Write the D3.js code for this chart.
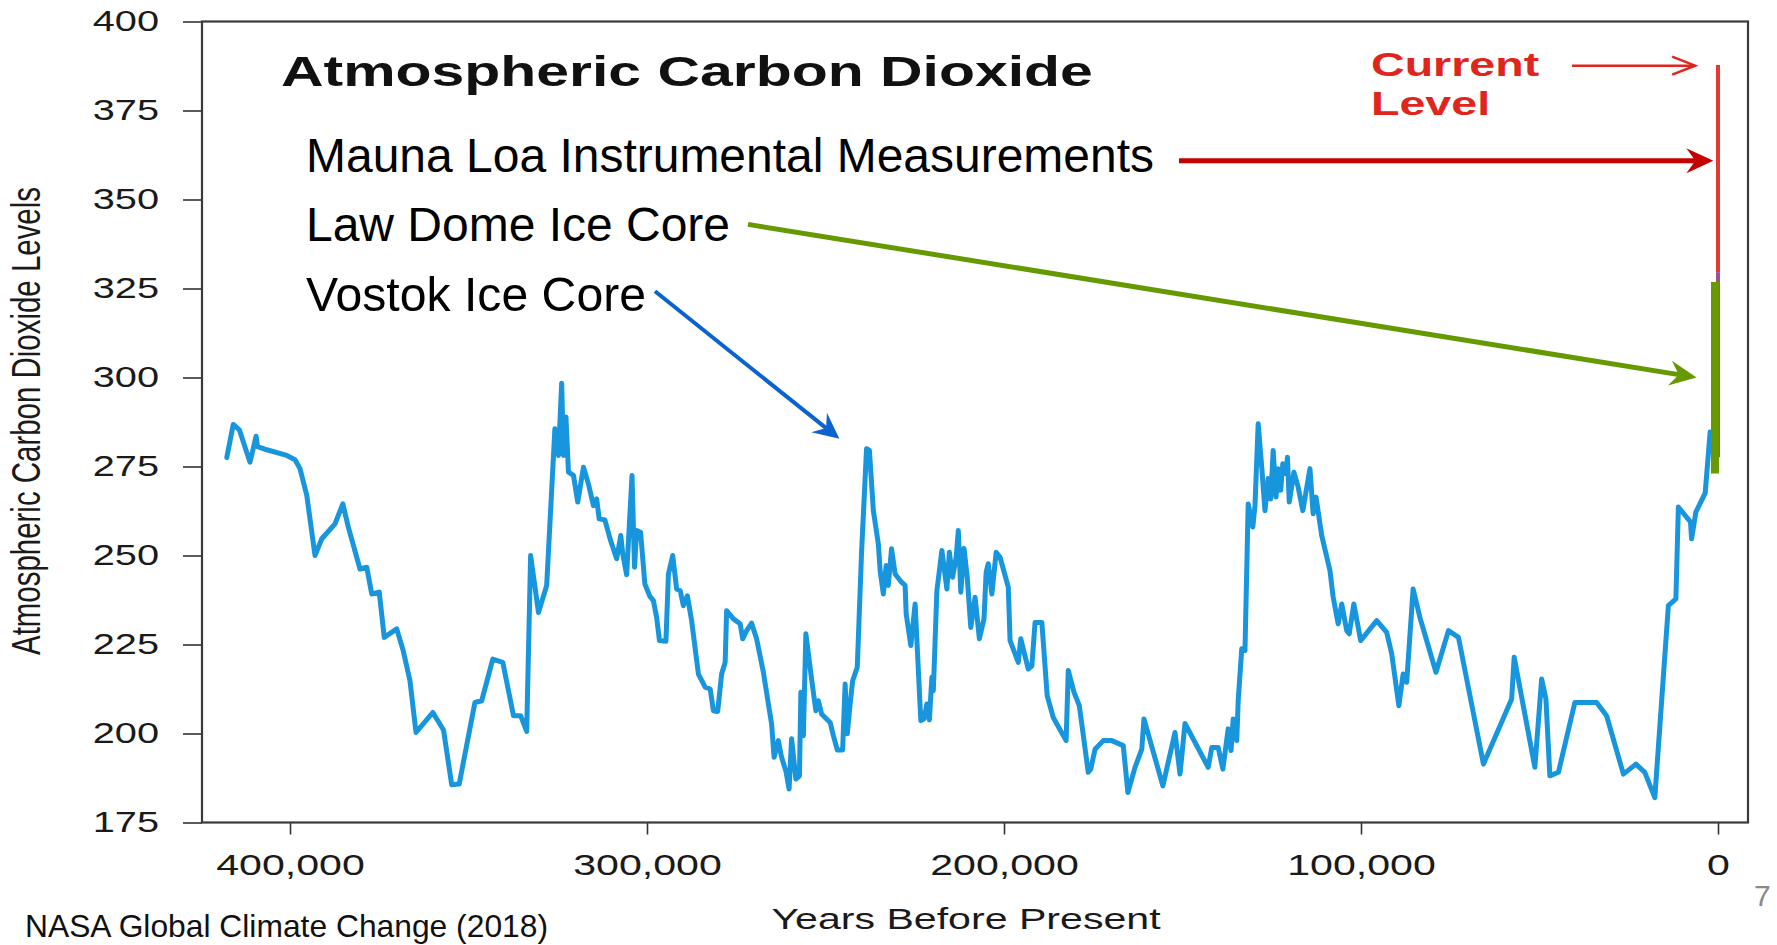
<!DOCTYPE html>
<html><head><meta charset="utf-8">
<script src="https://cdn.jsdelivr.net/npm/d3@7"></script>
<style>
html,body{margin:0;padding:0;background:#fff;}
svg{display:block;}
text{font-family:"Liberation Sans",Arial,Helvetica,sans-serif;}
</style>
</head><body>
<svg id="chart" width="1777" height="945"></svg>
<script>
// ---------------- DATA ----------------
const vostokYears = [417700,415900,414200,411200,409500,409100,406500,400900,398600,397200,395300,393000,391100,387400,385200,383700,380400,378500,377100,375000,373600,370100,368300,366400,364700,360000,357000,354700,352600,348200,346300,343200,340400,337400,335400,333700,332600,330400,328100,325800,324800,323900,323400,322700,322000,320600,319400,317800,316400,315000,314100,313400,311800,310200,308500,
307350,306800,305700,304200,303500,302900,301800,300600,299200,298200,297300,296500,294700,294000,292800,291700,290700,289800,288700,287500,285600,283700,282300,281400,280200,279100,278100,277700,275800,273900,273200,272100,270700,269300,267400,266000,265100,264400,263200,262300,261100,260200,259500,258300,257300,256900,256200,255500,253900,252700,252000,251100,249700,248700,247800,246700,245200,244500,243900,243100,242400,241100,239900,238500,237700,236600,235200,234700,233800,233000,232400,231500,230500,228700,227700,227400,226100,224900,223300,222400,221600,220900,220200,219800,218800,217400,216000,215300,214400,213400,212800,212100,211200,210300,209300,208100,206900,205600,205000,204400,203400,202200,201100,198800,198300,196000,
195300,193200,192200,191300,189400,187900,186200,182600,182000,180400,178900,176400,175700,174500,172200,169800,166600,165300,163300,161400,160800,155500,152100,150700,149300,142800,141800,140000,138700,137200,136400,135800,134800,134400,133400,132500,131600,130300,129700,128800,127800,126900,126000,125300,124600,123800,123200,122500,121900,121000,120600,120100,118800,117600,116300,114300,113400,112600,111000,108700,107800,106400,105400,104000,103300,102000,100100,95600,92800,91400,89400,88200,87200,85400,83500,79000,75500,72700,65700,57800,57100,51300,49400,48200,47100,44700,40100,34000,31200,26500,23000,20500,17700,13900,11800,11100,7700,7400,6200,3600,2200];
const vostokPpm = [277.5,286.8,285.3,276.2,283.5,280.6,279.7,278.1,276.9,274.4,266.9,250.0,254.7,258.9,264.5,258.1,246.2,246.7,239.2,239.7,227.0,229.4,223.3,214.8,200.3,205.9,201.0,185.6,185.8,208.7,209.2,220.9,220.0,205.0,205.0,200.6,250.0,234.0,241.6,285.6,278.1,298.4,278.1,288.9,273.4,272.5,265.0,274.8,270.1,264.0,265.9,260.3,260.0,254.2,249.1,
255.6,250.5,244.6,272.5,246.7,257.0,256.5,242.0,238.5,237.3,232.6,226.1,225.9,244.8,250.0,240.6,240.1,235.9,238.7,231.7,216.7,213.0,212.5,206.4,206.2,216.7,220.0,234.5,232.2,230.8,226.6,228.9,231.0,226.6,217.2,208.3,202.7,193.3,198.0,193.3,189.5,184.4,198.5,187.2,188.1,211.6,199.4,228.0,215.3,206.4,209.2,205.5,204.1,203.1,199.4,195.4,195.4,213.9,199.9,208.3,214.8,218.6,250.9,280.0,279.5,262.6,253.3,245.8,239.2,247.2,241.6,251.9,244.8,242.5,241.6,233.6,224.7,236.4,203.6,204.1,208.3,203.8,215.8,212.0,240.1,251.4,240.6,250.9,243.9,249.5,257.0,239.7,252.0,243.9,229.8,238.3,226.6,232.2,245.3,247.7,239.2,250.9,249.5,241.1,226.1,220.0,
226.6,218.1,219.0,231.2,231.2,210.6,204.5,198.0,217.7,211.6,207.8,189.1,190.0,195.6,198.0,198.0,196.6,183.4,190.5,195.6,204.1,185.3,200.3,188.6,202.8,190.5,196.1,196.1,190.0,201.3,195.2,204.1,198.0,209.2,223.8,223.3,264.5,258.0,264.0,287.0,274.8,262.6,271.6,265.9,279.5,266.4,274.4,268.3,275.8,273.0,277.6,265.0,273.4,269.2,262.6,274.4,261.7,266.4,255.6,245.8,238.3,230.8,236.4,228.9,228.0,236.4,226.1,231.7,228.4,222.4,207.8,216.7,214.4,240.6,232.6,217.2,228.9,227.0,191.4,209.7,221.4,190.5,215.3,209.7,188.1,189.1,208.7,208.7,205.0,188.6,191.4,189.1,182.0,235.9,237.8,263.6,259.4,254.7,262.2,267.5,284.7];

const lawDomeYears = [840, 840];
const lawDomePpm = [273.0, 326.8];
const maunaLoaYears = [0, 0];
const maunaLoaPpm = [329.6, 387.8];
const overlapYears = [0, 0];
const overlapPpm = [277.6, 329.6];

const yTicks = [175, 200, 225, 250, 275, 300, 325, 350, 375, 400];
const xTicks = [400000, 300000, 200000, 100000, 0];

const chartTitle = "Atmospheric Carbon Dioxide";
const xTitle = "Years Before Present";
const yTitle = "Atmospheric Carbon Dioxide Levels";
const annotationLabels = ["Mauna Loa Instrumental Measurements", "Law Dome Ice Core", "Vostok Ice Core"];
// arrow targets in data units [year, ppm]
const annotationTargets = [[1300, 360.9], [6000, 300.0], [246100, 282.8]];
const currentLabel = ["Current", "Level"];
const currentTarget = [6400, 387.6];
const sourceNote = "NASA Global Climate Change (2018)";
const pageNumber = "7";

// ---------------- LAYOUT ----------------
const svg = d3.select("#chart");
const box = {left: 202, right: 1748, top: 21.5, bottom: 822.5};
const x = d3.scaleLinear().domain([400000, 0]).range([290, 1718]);
const y = d3.scaleLinear().domain([175, 400]).range([box.bottom, box.top]);
const STRETCH = 1.37;

function stretch(sel, k) {
  sel.each(function () {
    const w = this.getComputedTextLength();
    this.setAttribute("textLength", w * k);
    this.setAttribute("lengthAdjust", "spacingAndGlyphs");
  });
}

svg.append("rect").attr("width", 1777).attr("height", 945).attr("fill", "#fff");

// axes
const yAxis = svg.append("g").attr("transform", `translate(${box.left},0)`)
  .call(d3.axisLeft(y).tickValues(yTicks).tickSize(19).tickPadding(24));
yAxis.select(".domain").remove();
yAxis.selectAll(".tick line").attr("stroke", "#333").attr("stroke-width", 1.6);
yAxis.selectAll(".tick text").attr("font-size", 29).attr("fill", "#1a1a1a")
  .style("font-family", '"Liberation Sans",Arial,sans-serif');
stretch(yAxis.selectAll(".tick text"), STRETCH);

const xAxis = svg.append("g").attr("transform", `translate(0,${box.bottom})`)
  .call(d3.axisBottom(x).tickValues(xTicks).tickSize(12).tickPadding(19).tickFormat(d3.format(",")));
xAxis.select(".domain").remove();
xAxis.selectAll(".tick line").attr("stroke", "#333").attr("stroke-width", 1.6);
xAxis.selectAll(".tick text").attr("font-size", 30).attr("fill", "#1a1a1a")
  .style("font-family", '"Liberation Sans",Arial,sans-serif');
stretch(xAxis.selectAll(".tick text"), STRETCH);

// frame
svg.append("rect").attr("x", box.left).attr("y", box.top)
  .attr("width", box.right - box.left).attr("height", box.bottom - box.top)
  .attr("fill", "none").attr("stroke", "#3a3a3a").attr("stroke-width", 2.2);

// series
const line = d3.line().x(d => x(d[0])).y(d => y(d[1]));
const zip = (a, b) => a.map((v, i) => [v, b[i]]);

svg.append("path").datum(zip(maunaLoaYears, maunaLoaPpm)).attr("d", line)
  .attr("fill", "none").attr("stroke", "#e23a30").attr("stroke-width", 4);
svg.append("path").datum(zip(overlapYears, overlapPpm)).attr("d", line)
  .attr("fill", "none").attr("stroke", "#a0508c").attr("stroke-width", 4);
svg.append("path").datum(zip(vostokYears, vostokPpm)).attr("d", line)
  .attr("fill", "none").attr("stroke", "#1795dd").attr("stroke-width", 5)
  .attr("stroke-linejoin", "round").attr("stroke-linecap", "round");
svg.append("path").datum(zip(lawDomeYears, lawDomePpm)).attr("d", line)
  .attr("fill", "none").attr("stroke", "#679a00").attr("stroke-width", 8);

// titles
const title = svg.append("text").attr("x", 281).attr("y", 86)
  .attr("font-size", 43).attr("font-weight", "bold").attr("fill", "#111").text(chartTitle);
stretch(title, STRETCH);

const xt = svg.append("text").attr("x", 966).attr("y", 929).attr("text-anchor", "middle")
  .attr("font-size", 30).attr("fill", "#1a1a1a").text(xTitle);
stretch(xt, STRETCH);

svg.append("text").attr("transform", "translate(40,421) rotate(-90) scale(1,1.37)")
  .attr("text-anchor", "middle").attr("font-size", 29.4).attr("fill", "#1a1a1a")
  .attr("textLength", 468).attr("lengthAdjust", "spacingAndGlyphs").text(yTitle);

// current level
const cur = svg.append("g").attr("fill", "#e0261c").attr("font-weight", "bold").attr("font-size", 34);
cur.append("text").attr("x", 1371).attr("y", 76).text(currentLabel[0]).call(stretch, STRETCH);
cur.append("text").attr("x", 1371).attr("y", 115).text(currentLabel[1]).call(stretch, STRETCH);
{
  const tx = x(currentTarget[0]), ty = y(currentTarget[1]);
  svg.append("line").attr("x1", 1572).attr("y1", ty).attr("x2", tx).attr("y2", ty)
    .attr("stroke", "#e0261c").attr("stroke-width", 2.5);
  svg.append("path").attr("d", `M${tx - 23},${ty - 9}L${tx},${ty}L${tx - 23},${ty + 9}`)
    .attr("fill", "none").attr("stroke", "#e0261c").attr("stroke-width", 2.5).attr("stroke-linejoin", "miter");
}

// annotation labels
const labelPos = [[306, 172], [306, 241], [306, 311]];
const labelLen = [848, 424, 340];
annotationLabels.forEach((t, i) => {
  svg.append("text").attr("x", labelPos[i][0]).attr("y", labelPos[i][1])
    .attr("font-size", 48).attr("fill", "#000")
    .attr("textLength", labelLen[i]).attr("lengthAdjust", "spacingAndGlyphs").text(t);
});

function arrow(x1, y1, x2, y2, color, w, hl, hw, notch) {
  const a = Math.atan2(y2 - y1, x2 - x1), c = Math.cos(a), s = Math.sin(a);
  const bx = x2 - hl * c, by = y2 - hl * s;
  const nx = x2 - (hl - notch) * c, ny = y2 - (hl - notch) * s;
  svg.append("line").attr("x1", x1).attr("y1", y1).attr("x2", nx).attr("y2", ny)
    .attr("stroke", color).attr("stroke-width", w);
  svg.append("path").attr("d",
    `M${x2},${y2}L${bx - hw * s},${by + hw * c}L${nx},${ny}L${bx + hw * s},${by - hw * c}Z`)
    .attr("fill", color);
}
const arrowStarts = [[1179, null], [748, 224.4], [655, 291.3]];
const arrowColors = ["#c40000", "#669900", "#0a63cf"];
annotationTargets.forEach((t, i) => {
  const tx = x(t[0]), ty = y(t[1]);
  const sx = arrowStarts[i][0], sy = arrowStarts[i][1] === null ? ty : arrowStarts[i][1];
  arrow(sx, sy, tx, ty, arrowColors[i], i === 2 ? 4 : 5, i === 2 ? 26 : 27, 12.5, 9);
});

// source and page number
svg.append("text").attr("x", 25).attr("y", 937).attr("font-size", 32).attr("fill", "#111")
  .attr("textLength", 523).attr("lengthAdjust", "spacingAndGlyphs").text(sourceNote);
svg.append("text").attr("x", 1754).attr("y", 906).attr("font-size", 30).attr("fill", "#8a8a8a").text(pageNumber);
</script>
</body></html>
